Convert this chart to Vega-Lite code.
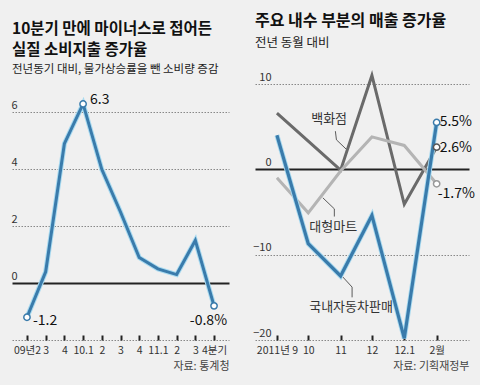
{
  "$schema": "https://vega.github.io/schema/vega-lite/v6.json",
  "background": "#f0f0f0",
  "padding": {"left": 11, "top": 12, "right": 12, "bottom": 13},
  "spacing": 26,
  "bounds": "flush",
  "config": {
    "font": "Noto Sans CJK KR",
    "view": {"stroke": null},
    "axis": {"labelFont": "Noto Sans CJK KR", "titleFont": "Noto Sans CJK KR"}
  },
  "datasets": {
    "cons": [
      {"q": "2009Q2", "v": -1.2, "lab": "-1.2"},
      {"q": "2009Q3", "v": 0.4},
      {"q": "2009Q4", "v": 4.9},
      {"q": "2010Q1", "v": 6.3, "lab": "6.3"},
      {"q": "2010Q2", "v": 4.0},
      {"q": "2010Q3", "v": 2.5},
      {"q": "2010Q4", "v": 0.9},
      {"q": "2011Q1", "v": 0.5},
      {"q": "2011Q2", "v": 0.3},
      {"q": "2011Q3", "v": 1.5},
      {"q": "2011Q4", "v": -0.8, "lab": "-0.8%"}
    ],
    "sales": [
      {"m": "2011-09-01", "s": "백화점", "v": 6.6},
      {"m": "2011-10-01", "s": "백화점", "v": 3.3},
      {"m": "2011-11-01", "s": "백화점", "v": -0.1},
      {"m": "2011-12-01", "s": "백화점", "v": 11.0},
      {"m": "2012-01-01", "s": "백화점", "v": -4.1},
      {"m": "2012-02-01", "s": "백화점", "v": 2.6, "lab": "2.6%"},
      {"m": "2011-09-01", "s": "대형마트", "v": -1.0},
      {"m": "2011-10-01", "s": "대형마트", "v": -5.1},
      {"m": "2011-11-01", "s": "대형마트", "v": -0.2},
      {"m": "2011-12-01", "s": "대형마트", "v": 3.8},
      {"m": "2012-01-01", "s": "대형마트", "v": 2.8},
      {"m": "2012-02-01", "s": "대형마트", "v": -1.7, "lab": "-1.7%"},
      {"m": "2011-09-01", "s": "국내자동차판매", "v": 4.0},
      {"m": "2011-10-01", "s": "국내자동차판매", "v": -8.7},
      {"m": "2011-11-01", "s": "국내자동차판매", "v": -12.5},
      {"m": "2011-12-01", "s": "국내자동차판매", "v": -5.4},
      {"m": "2012-01-01", "s": "국내자동차판매", "v": -19.8},
      {"m": "2012-02-01", "s": "국내자동차판매", "v": 5.5, "lab": "5.5%"}
    ],
    "lead": [
      {"id": "a", "k": 1, "m": "2011-10-27", "v": 4.47},
      {"id": "a", "k": 2, "m": "2011-10-28", "v": 3.46},
      {"id": "a", "k": 3, "m": "2011-11-07", "v": 2.29},
      {"id": "b", "k": 1, "m": "2011-10-15", "v": -3.34},
      {"id": "b", "k": 2, "m": "2011-10-26", "v": -4.63},
      {"id": "b", "k": 3, "m": "2011-10-26", "v": -5.53},
      {"id": "c", "k": 1, "m": "2011-11-03", "v": -12.6},
      {"id": "c", "k": 2, "m": "2011-11-12", "v": -13.8},
      {"id": "c", "k": 3, "m": "2011-11-12", "v": -15.0}
    ],
    "notes": [
      {"t": "백화점", "m": "2011-10-21", "v": 5.9},
      {"t": "대형마트", "m": "2011-10-25", "v": -6.76},
      {"t": "국내자동차판매", "m": "2011-11-11", "v": -16.1}
    ]
  },
  "hconcat": [
    {
      "width": 217,
      "height": 256,
      "title": {
        "text": ["10분기 만에 마이너스로 접어든", "실질 소비지출 증가율"],
        "subtitle": "전년동기 대비, 물가상승률을 뺀 소비량 증감",
        "anchor": "start",
        "frame": "group",
        "font": "Noto Sans CJK KR",
        "fontSize": 15.5,
        "fontWeight": "bold",
        "lineHeight": 21,
        "color": "#111",
        "subtitleFont": "Noto Sans CJK KR",
        "subtitleFontSize": 11.5,
        "subtitleColor": "#222",
        "subtitlePadding": 5,
        "offset": 9
      },
      "data": {"name": "cons"},
      "encoding": {
        "x": {
          "field": "q",
          "type": "ordinal",
          "scale": {"type": "point", "padding": 0.8},
          "axis": {
            "labelExpr": "['09년2','3','4','10.1','2','3','4','11.1','2','3','4분기'][indexof(['2009Q2','2009Q3','2009Q4','2010Q1','2010Q2','2010Q3','2010Q4','2011Q1','2011Q2','2011Q3','2011Q4'], datum.value)]",
            "labelAngle": 0,
            "labelFontSize": 10.5,
            "labelColor": "#333",
            "labelPadding": 5,
            "offset": -5,
            "domain": false,
            "ticks": true,
            "tickSize": 5,
            "tickWidth": 2,
            "tickColor": "#222",
            "title": "자료: 통계청",
            "titleAnchor": "end",
            "titleAlign": "right",
            "titleFontSize": 11,
            "titleFontWeight": "normal",
            "titleColor": "#444",
            "titlePadding": 5
          }
        },
        "y": {
          "field": "v",
          "type": "quantitative",
          "scale": {"domain": [-2, 7], "nice": false, "zero": false},
          "axis": {
            "values": [-2, 0, 2, 4, 6],
            "labelExpr": "datum.value === -2 ? '' : datum.label",
            "title": null,
            "domain": false,
            "ticks": false,
            "labelAlign": "left",
            "labelBaseline": "bottom",
            "labelPadding": 1,
            "labelOffset": -2,
            "labelFontSize": 11,
            "labelColor": "#333",
            "grid": true,
            "gridColor": {"condition": {"test": "datum.value === 0", "value": "#222"}, "value": "#888"},
            "gridDash": {"condition": {"test": "datum.value === 0", "value": []}, "value": [1.5, 1.5]},
            "gridWidth": {"condition": {"test": "datum.value === 0", "value": 2}, "value": 1}
          }
        }
      },
      "layer": [
        {"mark": {"type": "line", "color": "#a8daf0", "strokeWidth": 5}},
        {"mark": {"type": "line", "color": "#3a7bab", "strokeWidth": 3}},
        {
          "transform": [{"filter": "isValid(datum.lab)"}],
          "mark": {"type": "point", "shape": "circle", "filled": true, "fill": "white", "stroke": "#3a7bab", "strokeWidth": 1.5, "size": 40, "opacity": 1}
        },
        {
          "transform": [{"filter": "datum.q === '2010Q1'"}],
          "mark": {"type": "text", "align": "left", "baseline": "middle", "dx": 7, "dy": -4, "fontSize": 14, "color": "#111"},
          "encoding": {"text": {"field": "lab"}}
        },
        {
          "transform": [{"filter": "datum.q === '2009Q2'"}],
          "mark": {"type": "text", "align": "left", "baseline": "middle", "dx": 6, "dy": 4, "fontSize": 14, "color": "#111"},
          "encoding": {"text": {"field": "lab"}}
        },
        {
          "transform": [{"filter": "datum.q === '2011Q4'"}],
          "mark": {"type": "text", "align": "right", "baseline": "middle", "dx": 13, "dy": 15, "fontSize": 14, "color": "#111"},
          "encoding": {"text": {"field": "lab"}}
        }
      ]
    },
    {
      "width": 214,
      "height": 256,
      "title": {
        "text": "주요 내수 부분의 매출 증가율",
        "subtitle": "전년 동월 대비",
        "anchor": "start",
        "frame": "group",
        "font": "Noto Sans CJK KR",
        "fontSize": 16,
        "fontWeight": "bold",
        "color": "#111",
        "subtitleFont": "Noto Sans CJK KR",
        "subtitleFontSize": 12.5,
        "subtitleColor": "#222",
        "subtitlePadding": 8,
        "offset": 20
      },
      "encoding": {
        "x": {
          "field": "m",
          "type": "temporal",
          "scale": {
            "type": "utc",
            "domain": [
              {"year": 2011, "month": 8, "date": 11, "utc": true},
              {"year": 2012, "month": 3, "date": 3, "utc": true}
            ]
          },
          "axis": {
            "values": [
              {"year": 2011, "month": 9, "date": 1, "utc": true},
              {"year": 2011, "month": 10, "date": 1, "utc": true},
              {"year": 2011, "month": 11, "date": 1, "utc": true},
              {"year": 2011, "month": 12, "date": 1, "utc": true},
              {"year": 2012, "month": 1, "date": 1, "utc": true},
              {"year": 2012, "month": 2, "date": 1, "utc": true}
            ],
            "labelExpr": "utcmonth(datum.value) === 8 ? '2011년 9' : utcmonth(datum.value) === 0 ? '12.1' : utcmonth(datum.value) === 1 ? '2월' : '' + (utcmonth(datum.value) + 1)",
            "labelAngle": 0,
            "labelFontSize": 10.5,
            "labelColor": "#333",
            "labelPadding": 5,
            "labelFlush": false,
            "labelOverlap": false,
            "offset": -5,
            "domain": false,
            "ticks": true,
            "tickSize": 5,
            "tickWidth": 2,
            "tickColor": "#222",
            "grid": false,
            "title": "자료: 기획재정부",
            "titleAnchor": "end",
            "titleAlign": "right",
            "titleFontSize": 11,
            "titleFontWeight": "normal",
            "titleColor": "#444",
            "titlePadding": 5
          }
        },
        "y": {
          "field": "v",
          "type": "quantitative",
          "scale": {"domain": [-20, 10], "nice": false, "zero": false},
          "axis": {
            "values": [-20, -10, 0, 10],
            "title": null,
            "domain": false,
            "ticks": false,
            "labelAlign": "right",
            "labelBaseline": "bottom",
            "labelPadding": -16,
            "labelOffset": -2,
            "labelFontSize": 11,
            "labelColor": "#333",
            "grid": true,
            "gridColor": {"condition": {"test": "datum.value === 0", "value": "#222"}, "value": "#888"},
            "gridDash": {"condition": {"test": "datum.value === 0", "value": []}, "value": [1.5, 1.5]},
            "gridWidth": {"condition": {"test": "datum.value === 0", "value": 2}, "value": 1}
          }
        }
      },
      "layer": [
        {
          "data": {"name": "lead"},
          "mark": {"type": "line", "color": "#333", "strokeWidth": 0.8},
          "encoding": {"detail": {"field": "id"}, "order": {"field": "k", "type": "quantitative"}}
        },
        {
          "data": {"name": "sales"},
          "transform": [{"filter": "datum.s === '백화점'"}],
          "mark": {"type": "line", "color": "#6a6a6a", "strokeWidth": 3}
        },
        {
          "data": {"name": "sales"},
          "transform": [{"filter": "datum.s === '대형마트'"}],
          "mark": {"type": "line", "color": "#b4b4b4", "strokeWidth": 3}
        },
        {
          "data": {"name": "sales"},
          "transform": [{"filter": "datum.s === '국내자동차판매'"}],
          "mark": {"type": "line", "color": "#a8daf0", "strokeWidth": 5}
        },
        {
          "data": {"name": "sales"},
          "transform": [{"filter": "datum.s === '국내자동차판매'"}],
          "mark": {"type": "line", "color": "#3a7bab", "strokeWidth": 3.2}
        },
        {
          "data": {"name": "sales"},
          "transform": [{"filter": "isValid(datum.lab)"}],
          "mark": {"type": "point", "shape": "circle", "filled": true, "fill": "white", "strokeWidth": 1.5, "size": 40, "opacity": 1},
          "encoding": {
            "stroke": {
              "field": "s",
              "type": "nominal",
              "scale": {"domain": ["백화점", "대형마트", "국내자동차판매"], "range": ["#555555", "#999999", "#3a7bab"]},
              "legend": null
            }
          }
        },
        {
          "data": {"name": "sales"},
          "transform": [{"filter": "datum.s === '국내자동차판매' && isValid(datum.lab)"}],
          "mark": {"type": "text", "align": "left", "baseline": "middle", "dx": 3, "dy": 0, "fontSize": 14, "color": "#111"},
          "encoding": {"text": {"field": "lab"}}
        },
        {
          "data": {"name": "sales"},
          "transform": [{"filter": "datum.s === '백화점' && isValid(datum.lab)"}],
          "mark": {"type": "text", "align": "left", "baseline": "middle", "dx": 3, "dy": 1, "fontSize": 14, "color": "#111"},
          "encoding": {"text": {"field": "lab"}}
        },
        {
          "data": {"name": "sales"},
          "transform": [{"filter": "datum.s === '대형마트' && isValid(datum.lab)"}],
          "mark": {"type": "text", "align": "left", "baseline": "middle", "dx": 1, "dy": 10, "fontSize": 14, "color": "#111"},
          "encoding": {"text": {"field": "lab"}}
        },
        {
          "data": {"name": "notes"},
          "mark": {"type": "text", "align": "center", "baseline": "middle", "fontSize": 13, "color": "#333"},
          "encoding": {"text": {"field": "t"}}
        }
      ]
    }
  ]
}
